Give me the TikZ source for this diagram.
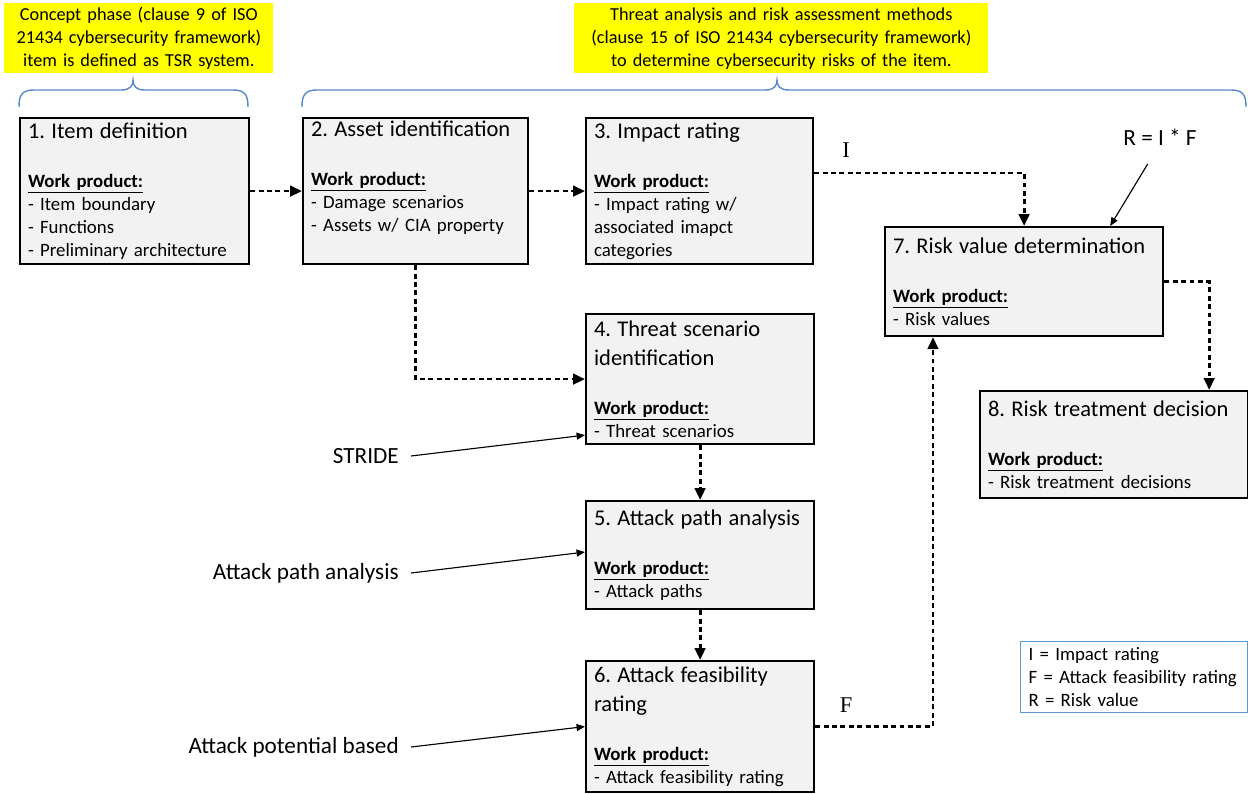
\documentclass[tikz,border=0pt]{standalone}
\usepackage{fontspec}
\setmainfont{Carlito}
\newfontfamily\serifletter{Liberation Serif}
\usetikzlibrary{arrows.meta,calc}
\definecolor{TRBox}{HTML}{F2F2F2}
\definecolor{TRYellow}{HTML}{FFFF00}
\definecolor{TRBrace}{HTML}{5B87CF}
\definecolor{TRLegend}{HTML}{5B9BD5}
\frenchspacing

\newcommand{\stagehead}[1]{{\fontsize{16}{20.6}\selectfont #1\par}\vspace{18.5pt}}
\newcommand{\workprod}{\underline{\textbf{Work product:}}\par}

\tikzset{
  stage/.style={draw,line width=1.5pt,fill=TRBox,anchor=north west,align=left,
    inner xsep=0.2cm,inner ysep=0pt,font=\fontsize{13.4}{16.3}\selectfont},
  note/.style={fill=TRYellow,anchor=north west,align=center,inner sep=0pt,
    font=\fontsize{13}{16.3}\selectfont},
  legend/.style={draw=TRLegend,line width=0.8pt,fill=white,anchor=north west,align=left,
    inner xsep=0.2cm,inner ysep=0pt,font=\fontsize{13.4}{16.3}\selectfont},
  flow/.style={line width=2pt,dash pattern=on 3.5pt off 2.5pt,-{Triangle[length=8.5pt,width=7.5pt]}},
  input/.style={line width=0.8pt,-{Triangle[length=6pt,width=5pt]}},
  method/.style={anchor=east,inner xsep=0.3cm,font=\fontsize{16.5}{19}\selectfont},
  rate/.style={font=\serifletter\fontsize{16}{18}\selectfont},
  brace/.style={TRBrace,line width=1pt}
}

\begin{document}
\begin{tikzpicture}[x=0.025cm,y=-0.025cm]
\path[use as bounding box] (0,0) rectangle (1248,794);

\node[note,text width=6.725cm,minimum height=1.75cm] (concept) at (4,3)
  {Concept phase (clause 9 of ISO\\21434 cybersecurity framework)\\item is defined as TSR system.};
\node[note,text width=10.35cm,minimum height=1.75cm] (tara) at (574,3)
  {Threat analysis and risk assessment methods\\(clause 15 of ISO 21434 cybersecurity framework)\\to determine cybersecurity risks of the item.};

\draw[brace] (19,107) .. controls (19,95) and (22,90) .. (34,90) -- (121,90)
  .. controls (130,90) and (133,86) .. (133,80) .. controls (133,86) and (136,90) .. (145,90)
  -- (233,90) .. controls (245,90) and (248,95) .. (248,107);
\draw[brace] (302,107) .. controls (302,95) and (305,90) .. (317,90) -- (765,90)
  .. controls (774,90) and (777,86) .. (777,80) .. controls (777,86) and (780,90) .. (789,90)
  -- (1231,90) .. controls (1243,90) and (1246,95) .. (1246,107);

\node[stage,text width=5.325cm,minimum height=3.65cm] (b1) at (19,117)
  {\stagehead{1. Item definition}\workprod - Item boundary\\- Functions\\- Preliminary architecture};
\node[stage,text width=5.225cm,minimum height=3.65cm] (b2) at (302,117)
  {\stagehead{2. Asset identification}\workprod - Damage scenarios\\- Assets w/ CIA property\\\strut};
\node[stage,text width=5.275cm,minimum height=3.65cm] (b3) at (585,117)
  {\stagehead{3. Impact rating}\workprod - Impact rating w/\\associated imapct\\categories};
\node[stage,text width=5.3cm,minimum height=3.25cm] (b4) at (585,313)
  {\stagehead{4. Threat scenario\\identification}\workprod - Threat scenarios};
\node[stage,text width=5.3cm,minimum height=2.7cm] (b5) at (585,500)
  {\stagehead{5. Attack path analysis}\workprod - Attack paths};
\node[stage,text width=5.3cm,minimum height=3.275cm] (b6) at (585,660)
  {\stagehead{6. Attack feasibility\\rating}\workprod - Attack feasibility rating};
\node[stage,text width=6.55cm,minimum height=2.725cm] (b7) at (884,226)
  {\stagehead{7. Risk value determination}\workprod - Risk values};
\node[stage,text width=6.3cm,minimum height=2.675cm] (b8) at (979,390)
  {\stagehead{8. Risk treatment decision}\workprod - Risk treatment decisions};

\draw[flow] (b1.east) -- (b2.west);
\draw[flow] (b2.east) -- (b3.west);
\draw[flow] (b2.south) |- (b4.west);
\draw[flow] ($(b3.east)+(0,-18)$) -| (b7.north);
\draw[flow] (b4.south) -- (b5.north);
\draw[flow] (b5.south) -- (b6.north);
\draw[flow] (b6.east) -| ($(b7.south west)+(49,0)$);
\draw[flow] (b7.east) -| ($(b8.north east)+(-40,0)$);

\node[rate] (rateI) at (846,150) {I};
\node[rate] (rateF) at (846,705) {F};

\node[method] (stride) at (411,456) {STRIDE};
\node[method] (pathm) at (411,573) {Attack path analysis};
\node[method] (potm) at (411,747) {Attack potential based};
\draw[input] (stride.east) -- ($(b4.south west)+(0,-10)$);
\draw[input] (pathm.east) -- ($(b5.west)+(0,-3)$);
\draw[input] (potm.east) -- (b6.west);

\node[font=\fontsize{16.5}{19}\selectfont] (formula) at (1160,137) {R = I * F};
\draw[input,shorten <=0.4cm] ($(formula.south)+(-4,0)$) -- ($(b7.north east)+(-54,0)$);

\node[legend,text width=5.275cm,minimum height=1.775cm] (key) at (1020,641)
  {I = Impact rating\\F = Attack feasibility rating\\R = Risk value};
\end{tikzpicture}
\end{document}
